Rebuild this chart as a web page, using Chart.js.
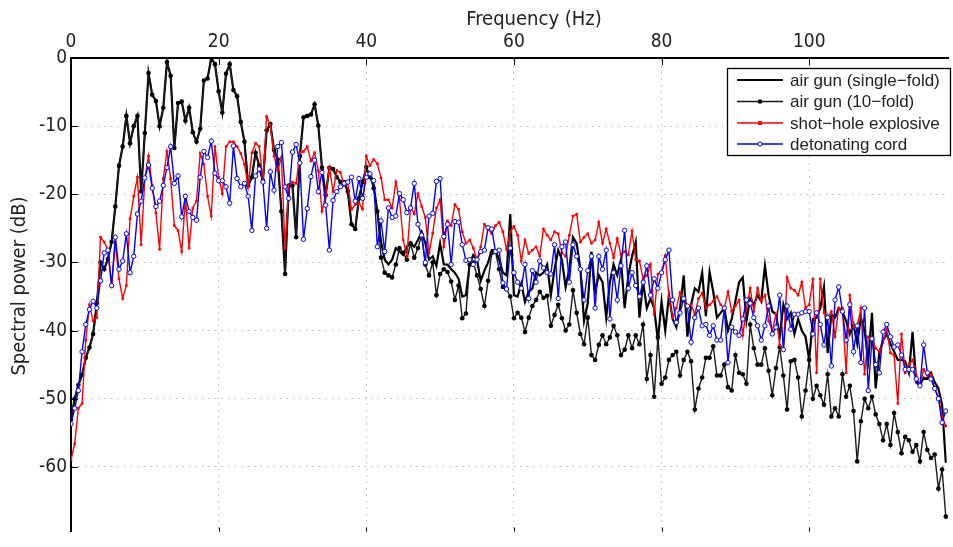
<!DOCTYPE html>
<html>
<head>
<meta charset="utf-8">
<script src="https://cdn.jsdelivr.net/npm/chart.js@4/dist/chart.umd.min.js"></script>
<style>
    html, body { margin: 0; padding: 0; background: #fff; }
    #wrap { width: 953px; height: 547px; }
</style>
</head>
<body>
<div id="wrap"><canvas id="chart" width="953" height="547"></canvas></div>
<script>
// spectra are sampled every 0.5 Hz starting at 0 Hz
const FREQ_STEP = 0.5;

const X_TICKS = [0, 20, 40, 60, 80, 100];
const Y_TICKS = [0, -10, -20, -30, -40, -50, -60];

const X_TITLE = "Frequency (Hz)";
const Y_TITLE = "Spectral power (dB)";

const SERIES_NAMES = [
    "air gun (single\u2212fold)",
    "air gun (10\u2212fold)",
    "shot\u2212hole explosive",
    "detonating cord",
];

// Spectral power (dB), one value per 0.5 Hz, rows of 5 Hz
const AIR_GUN_SINGLE = [
    -53, -50, -48, -46.5, -44, -42.5, -40.5, -36, -30, -31,
    -29.5, -27, -21.8, -15.8, -13, -8.5, -12.5, -10, -8.5, -19.6,
    -11, -2.2, -5.4, -6.3, -10, -7.3, -0.6, -2.6, -13.2, -6.6,
    -6.4, -9.2, -7.3, -10.9, -12.3, -10.4, -3.3, -3.0, 0, -0.9,
    -4.9, -8, -2.3, -0.9, -4.7, -5.6, -9.4, -12.3, -18.7, -17.5,
    -13.9, -15.8, -18, -10.6, -9.7, -13.5, -14.9, -22.5, -31.7, -18.7,
    -18.7, -26.3, -14.4, -8.7, -8.5, -8.3, -6.8, -9.9, -16.1, -20.1,
    -16.1, -16.3, -17.5, -18.2, -18.2, -19.6, -24.4, -25.1, -20.6, -18.2,
    -16.2, -17.2, -18.7, -22.5, -27, -29.6, -30.3, -29.6, -27.9, -28.4,
    -28.9, -27.7, -27.2, -27.7, -26.7, -25.5, -27.2, -29.6, -29.1, -30.5,
    -27.2, -30.3, -30.3, -31, -31.5, -32.4, -35, -34.8, -30.3, -28.9,
    -29.6, -32.7, -31.2, -30, -28.2, -28.2, -29.6, -31.5, -31.9, -22.9,
    -34.8, -35, -33.1, -35.8, -34.3, -33.8, -31.5, -31.9, -31.5, -30.3,
    -34.8, -31, -28.2, -29.6, -33.6, -31, -26.3, -27.2, -31, -38.6,
    -36, -28.4, -34.3, -31.9, -32.9, -38.1, -32.9, -30.3, -31.9, -29.6,
    -36.7, -31.9, -29.1, -27, -38.1, -32.9, -36.7, -35.3, -36.7, -41.5,
    -35.7, -40, -34.8, -38.3, -39.5, -36.7, -31.9, -40.9, -36.2, -33.8,
    -34.3, -31.5, -37.9, -31.4, -34.3, -38.1, -37.4, -36.7, -40, -38.3,
    -35.7, -32.9, -32.2, -38.6, -35.3, -36.2, -34.8, -35.7, -30.5, -34.8,
    -37.2, -37.6, -40.9, -36.2, -38.3, -37.4, -40.5, -38.3, -40, -40.9,
    -44.3, -38.3, -38.1, -36.7, -33.6, -43.3, -37.6, -38.1, -36.7, -37.2,
    -38.6, -40.5, -39.1, -41.9, -38.1, -40, -44.3, -37.4, -48.5, -43.3,
    -41.4, -40.5, -41.9, -43.1, -44.3, -44.3, -44.5, -46.2, -40.2, -47.6,
    -48.1, -46.9, -47.1, -46.2, -47.6, -48.5, -50.9, -59.4,
];

const AIR_GUN_TEN = [
    -53, -50, -48, -46.5, -44, -42.5, -40.5, -36, -30, -31,
    -29.5, -27, -21.8, -15.8, -13, -8.5, -12.5, -10, -8.5, -19.6,
    -11, -2.2, -5.4, -6.3, -10, -7.3, -0.6, -2.6, -13.2, -6.6,
    -6.4, -9.2, -7.3, -10.9, -12.3, -10.4, -3.3, -3.0, 0, -0.9,
    -4.9, -8, -2.3, -0.9, -4.7, -5.6, -9.4, -12.3, -18.7, -17.5,
    -13.9, -15.8, -18, -10.6, -9.7, -13.5, -14.9, -22.5, -31.7, -18.7,
    -18.7, -26.3, -14.4, -8.7, -8.5, -8.3, -6.8, -9.9, -16.1, -20.1,
    -16.1, -16.3, -17.5, -18.2, -18.2, -19.6, -24.4, -25.1, -20.6, -18.2,
    -16, -17.5, -19.1, -22.5, -29.3, -31.5, -31.9, -32.2, -30.3, -27.9,
    -28.6, -29.6, -27.2, -29.3, -27.9, -26, -30.3, -31.9, -30, -34.8,
    -31.7, -31, -31.4, -32.8, -35.5, -33.4, -38.2, -37.5, -30.3, -30,
    -31.9, -33.9, -36.4, -32.7, -28.6, -28.4, -31, -33.6, -33.9, -35,
    -38.2, -37.4, -38.1, -40.2, -38.1, -36.4, -35.5, -34.3, -35.2, -34.9,
    -39.3, -37.7, -36.2, -38.2, -40, -39.1, -34.1, -37.4, -40.5, -42,
    -38.1, -43.6, -44.3, -42.1, -40.7, -42, -41, -39.3, -40.7, -43.6,
    -42.8, -40.7, -42.6, -40.7, -42, -39.1, -47.1, -43.6, -49.7, -41,
    -47.8, -46.9, -44.3, -43.6, -43.1, -46.6, -44.3, -43.1, -44.5, -51.6,
    -48.5, -46.9, -44, -44, -42.3, -46.6, -46.6, -45, -48.3, -48.8,
    -43.6, -46.2, -46.4, -47.8, -39.1, -42.6, -45, -45, -42.6, -45.9,
    -49.5, -45.5, -42.4, -46.6, -51.6, -44.5, -44.3, -46.9, -52.6, -48.8,
    -44.3, -50, -48.1, -49.5, -50.9, -46.4, -52.6, -51.4, -52.6, -46.4,
    -49.7, -48.1, -51.8, -59.2, -53.3, -50, -51.4, -49.7, -52.3, -53.7,
    -56.1, -53.7, -56.8, -52.1, -54.9, -58, -55.6, -56.1, -57.8, -56.8,
    -59.2, -54.9, -57.5, -58.7, -58.2, -63.2, -60.4, -67.3,
];

const SHOT_HOLE = [
    -59, -56.6, -51.4, -50.7, -41.4, -36.2, -38.6, -38.1, -26.3, -27,
    -28.2, -33.6, -27, -32.4, -35.3, -33.4, -23.6, -20.3, -17.5, -27.4,
    -17.7, -14.4, -18.7, -22.7, -28.1, -17.7, -13.7, -17.7, -24.6, -25.3,
    -28.4, -20.6, -27.9, -22, -21, -14, -15.6, -20.3, -23.2, -13,
    -17.5, -19.9, -13, -12.3, -12.3, -13, -14, -15.6, -18.9, -13.9,
    -12.5, -13, -18, -8.6, -9.9, -14.4, -16.5, -14.6, -27.9, -18.7,
    -18.2, -18.4, -13.9, -13.7, -13, -15.1, -13.9, -16.5, -22.5, -20.1,
    -16.1, -19.6, -16.5, -16.8, -18.7, -18.4, -22.2, -21.5, -21.3, -22.2,
    -14.4, -15.8, -14.9, -15.5, -17.6, -20.8, -20.8, -22, -18.2, -20.8,
    -26.7, -29.1, -21.8, -22.9, -19.9, -21.8, -23.4, -28.6, -25.7, -22,
    -20.8, -27.7, -23.9, -24.6, -21.5, -22.2, -25.5, -27.2, -26.7, -27.9,
    -29.6, -27.7, -24.4, -25.1, -25.8, -24.6, -24.1, -25.5, -28.1, -25.5,
    -24.7, -26, -29.8, -26.7, -28.7, -28.2, -27.7, -29.1, -25.1, -26,
    -26.7, -25.5, -25.8, -28.6, -29.1, -26, -23.2, -22.9, -27, -26.3,
    -25.8, -27.2, -26.7, -24.1, -27.2, -25.1, -27.2, -29.3, -26.5, -28.9,
    -28.4, -28.9, -25.4, -29.6, -29.8, -32.4, -31.9, -30.3, -37.6, -31.7,
    -31.5, -29, -35, -38.1, -36.7, -34.4, -35.7, -36.4, -36.2, -37.6,
    -35.3, -34.5, -36.7, -36.2, -35.7, -35, -36.2, -36.7, -34.3, -37.2,
    -36.4, -35.5, -40.7, -36.7, -33.8, -37.2, -33.8, -35.7, -34.8, -38.6,
    -40, -37.6, -42.1, -42.8, -32.2, -33.8, -34.1, -34.8, -32.9, -36.7,
    -36.2, -32.4, -46.2, -32.4, -37.4, -38.1, -37.2, -40.9, -36.7, -36.7,
    -46.2, -34.8, -39.5, -39.5, -36.7, -46.4, -40.9, -41.2, -42.6, -43.1,
    -41.7, -39.8, -43.3, -43.6, -50.7, -40.5, -46.2, -45, -44.3, -46.6,
    -48.1, -45.7, -46.6, -46.4, -48.5, -49.7, -52.6, -54,
];

const DET_CORD = [
    -53.7, -51.4, -48.8, -43.1, -39.1, -36.9, -35.7, -36.7, -32.7, -28.6,
    -28.2, -33.4, -26.3, -31, -29.8, -25.8, -31.5, -29.1, -22.9, -21,
    -17.6, -15.7, -19.1, -21.8, -21, -18.7, -16.1, -13, -18.4, -17.3,
    -23.3, -20.3, -22.5, -23.4, -23.8, -17.5, -13.7, -14.6, -12.2, -16.9,
    -18, -18, -18.9, -21.3, -12.9, -17.7, -18.9, -18.4, -20.3, -25.3,
    -17.3, -16.3, -18.2, -25, -16.7, -19.4, -13, -12.4, -18.9, -20.6,
    -13.8, -12.7, -15.4, -26.6, -22.1, -17.4, -15, -19.6, -16.8, -21.6,
    -28.2, -20.9, -19.6, -18.9, -18.4, -18.2, -17.5, -21, -17.7, -20.6,
    -17.5, -17, -18, -27.7, -23.9, -28.4, -22, -23.4, -23.2, -19.9,
    -20.8, -22.7, -22, -18.4, -24.4, -26, -30, -23.2, -22.8, -18.1,
    -17.7, -26.2, -24.4, -30.3, -24, -24.1, -27.4, -29.7, -29.6, -30.3,
    -29.6, -28.4, -28.2, -24.9, -25.1, -28.4, -28.2, -33, -33.9, -27.9,
    -31.5, -32.9, -33.8, -30.3, -35.3, -31.2, -32.9, -29.8, -30.8, -31.5,
    -31.7, -27.4, -35.3, -27.7, -27, -32.9, -27.4, -29.1, -31, -35.5,
    -31.2, -29.1, -36.7, -29.1, -31, -28.2, -38.3, -31.5, -35.5, -30.5,
    -25.3, -33.8, -31.5, -33.4, -35, -32.9, -30.5, -34.8, -32.4, -33.8,
    -31.5, -29.6, -28.2, -35.5, -38.8, -37.4, -35.3, -36.4, -41.7, -38.1,
    -36.7, -39.3, -39.1, -40.7, -39.3, -41.4, -41.4, -36.7, -44.7, -39.5,
    -40.2, -40.7, -38.3, -35.5, -36, -38.1, -39.3, -41.4, -39.3, -36.4,
    -40.5, -39.5, -34.8, -42.8, -36.4, -39.8, -37.6, -37.6, -37.4, -37.2,
    -37.2, -40.5, -37.4, -39.1, -42.1, -38.1, -45.2, -35.5, -33.6, -37.2,
    -41.4, -36.2, -43.1, -39.3, -44.7, -36.7, -48.8, -41.2, -45, -46.2,
    -40.2, -39.1, -40.9, -42.4, -42.1, -43.6, -45.7, -45.7, -45.7, -47.1,
    -48.1, -42.1, -46.2, -47.1, -48.5, -50, -53.5, -51.8,
];

const FONT = "'DejaVu Sans Condensed', 'DejaVu Sans', sans-serif";
const LEGEND_FONT = "'Liberation Sans', Arial, sans-serif";

const toPoints = (values) => values.map((y, i) => ({ x: i * FREQ_STEP, y }));

const STYLES = [
    { color: "#000000", width: 2.2, radius: 0, style: "circle", fill: "#000000", order: 3 },
    { color: "#1a1a1a", width: 1.4, radius: 2.3, style: "circle", fill: "#000000", order: 2 },
    { color: "#ff0000", width: 1.4, radius: 1.8, style: "rect", fill: "#ff0000", order: 1 },
    { color: "#0000ff", width: 1.4, radius: 2.2, style: "circle", fill: "#ffffff", order: 0 },
];

const datasets = [AIR_GUN_SINGLE, AIR_GUN_TEN, SHOT_HOLE, DET_CORD].map((values, i) => {
    const s = STYLES[i];
    return {
        label: SERIES_NAMES[i],
        data: toPoints(values),
        borderColor: s.color,
        borderWidth: s.width,
        pointRadius: s.radius,
        pointStyle: s.style,
        pointBackgroundColor: s.fill,
        pointBorderColor: i === 3 ? s.color : s.fill,
        pointBorderWidth: i === 3 ? 1 : 0,
        tension: 0,
        order: s.order,
    };
});

// MATLAB style: tick marks point into the plot, titles, legend box top right
const axesDecor = {
    id: "axesDecor",
    afterDraw(chart) {
        const { ctx, chartArea: a, scales } = chart;
        ctx.save();
        ctx.strokeStyle = "#000";
        ctx.lineWidth = 1;
        X_TICKS.forEach((v) => {
            const px = Math.round(scales.x.getPixelForValue(v)) + 0.5;
            ctx.beginPath();
            ctx.moveTo(px, a.top);
            ctx.lineTo(px, a.top + 7);
            ctx.moveTo(px, a.bottom);
            ctx.lineTo(px, a.bottom - 4);
            ctx.stroke();
        });
        Y_TICKS.forEach((v) => {
            const py = Math.round(scales.y.getPixelForValue(v)) + 0.5;
            ctx.beginPath();
            ctx.moveTo(a.left, py);
            ctx.lineTo(a.left + 7, py);
            ctx.stroke();
        });

        // axis titles (the source figure is cropped, so they sit off-centre)
        ctx.fillStyle = "#222";
        ctx.font = "20px " + FONT;
        ctx.textAlign = "center";
        ctx.textBaseline = "middle";
        ctx.fillText(X_TITLE, 534, 20);
        ctx.save();
        ctx.translate(20, 286);
        ctx.rotate(-Math.PI / 2);
        ctx.fillText(Y_TITLE, 0, 0);
        ctx.restore();

        // legend
        const box = { x: 727, y: 68, w: 223, h: 87 };
        ctx.fillStyle = "#fff";
        ctx.fillRect(box.x, box.y, box.w, box.h);
        ctx.strokeStyle = "#000";
        ctx.lineWidth = 1.3;
        ctx.strokeRect(box.x + 0.5, box.y + 0.5, box.w, box.h);
        const rows = [80, 101.5, 123, 144];
        ctx.font = "17px " + LEGEND_FONT;
        ctx.textAlign = "left";
        ctx.textBaseline = "middle";
        datasets.forEach((ds, i) => {
            const s = STYLES[i];
            const y = rows[i];
            ctx.strokeStyle = s.color;
            ctx.lineWidth = s.width;
            ctx.beginPath();
            ctx.moveTo(737, y);
            ctx.lineTo(783, y);
            ctx.stroke();
            if (s.radius > 0) {
                ctx.fillStyle = s.fill;
                ctx.strokeStyle = s.color;
                ctx.lineWidth = 1;
                ctx.beginPath();
                if (s.style === "rect") {
                    ctx.fillRect(760 - 2, y - 2, 4, 4);
                } else {
                    ctx.arc(760, y, s.radius, 0, Math.PI * 2);
                    ctx.fill();
                    if (i === 3) ctx.stroke();
                }
            }
            ctx.fillStyle = "#222";
            ctx.fillText(ds.label, 790, y + 1);
        });
        ctx.restore();
    },
};

new Chart(document.getElementById("chart"), {
    type: "line",
    data: { datasets },
    options: {
        responsive: false,
        animation: false,
        devicePixelRatio: 1,
        layout: { padding: 0 },
        plugins: {
            legend: { display: false },
            tooltip: { enabled: false },
        },
        scales: {
            x: {
                type: "linear",
                position: "top",
                min: 0,
                max: 118.8,
                afterBuildTicks: (scale) => {
                    scale.ticks = X_TICKS.map((value) => ({ value }));
                },
                afterFit: (scale) => {
                    scale.height = 58;
                },
                grid: {
                    color: "#b4b4b4",
                    lineWidth: 1,
                    drawTicks: false,
                },
                border: { display: true, color: "#000", width: 2, dash: [1.5, 5] },
                ticks: {
                    color: "#222",
                    font: { family: FONT, size: 19 },
                    padding: 5,
                    maxRotation: 0,
                    autoSkip: false,
                },
            },
            y: {
                type: "linear",
                min: -69.5,
                max: 0,
                afterBuildTicks: (scale) => {
                    scale.ticks = Y_TICKS.map((value) => ({ value }));
                },
                afterFit: (scale) => {
                    scale.width = 71;
                },
                grid: {
                    color: "#b4b4b4",
                    lineWidth: 1,
                    drawTicks: false,
                },
                border: { display: true, color: "#000", width: 2, dash: [1.5, 5] },
                ticks: {
                    color: "#222",
                    font: { family: FONT, size: 19 },
                    padding: 4,
                },
            },
        },
    },
    plugins: [axesDecor],
});
</script>
</body>
</html>
